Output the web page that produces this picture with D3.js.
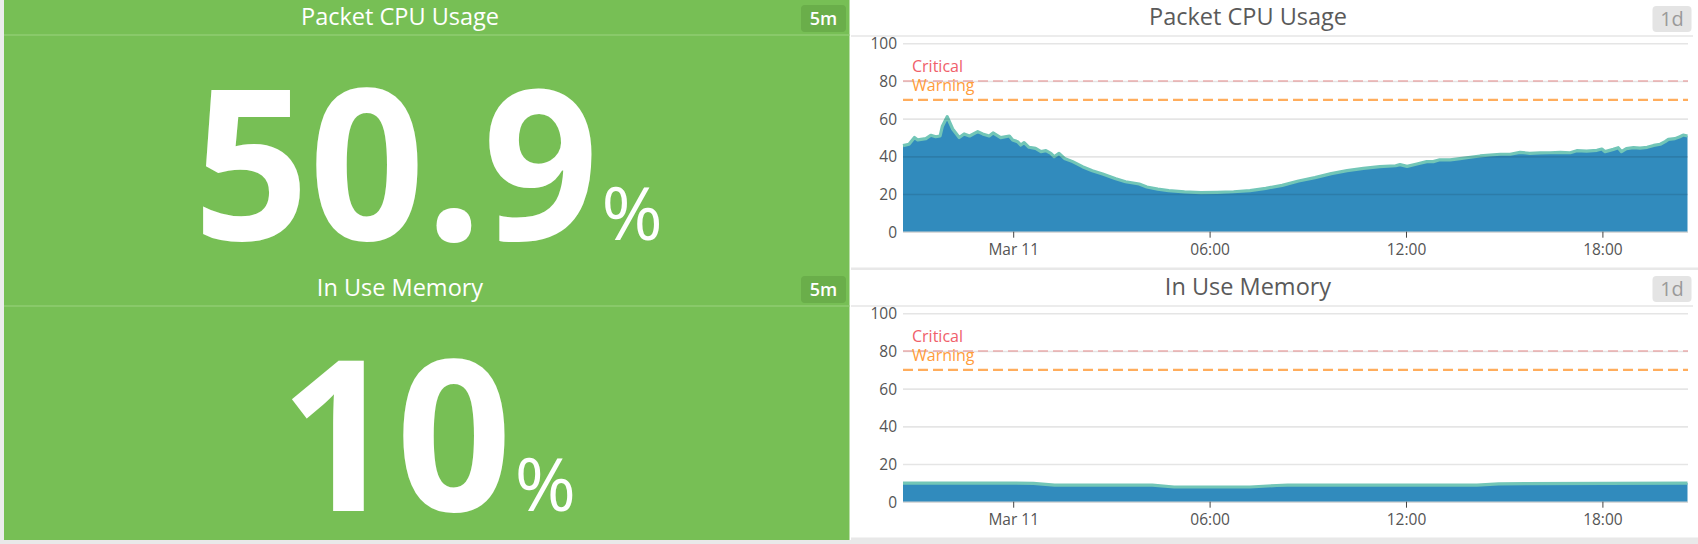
<!DOCTYPE html>
<html><head><meta charset="utf-8">
<script src="https://cdn.jsdelivr.net/npm/d3@7/dist/d3.min.js"></script>
<style>
html,body{margin:0;padding:0;background:#fff;overflow:hidden}
svg{display:block;font-family:'Open Sans',sans-serif}
</style>
</head><body>
<svg id="c" width="1698" height="544"></svg>
<script>
// ---------- data ----------
const titles = ["Packet CPU Usage", "In Use Memory"];
const bigValues = ["50.9", "10"];
const bigUnit = "%";
const leftBadge = "5m";
const rightBadge = "1d";

const cpuTimes = [
 "2017-03-10 20:38","2017-03-10 20:49","2017-03-10 20:59","2017-03-10 21:05","2017-03-10 21:20","2017-03-10 21:29",
 "2017-03-10 21:38","2017-03-10 21:46","2017-03-10 21:50","2017-03-10 21:59","2017-03-10 22:09","2017-03-10 22:21",
 "2017-03-10 22:30","2017-03-10 22:40","2017-03-10 22:55","2017-03-10 23:04","2017-03-10 23:16","2017-03-10 23:23",
 "2017-03-10 23:37","2017-03-10 23:53","2017-03-10 23:59","2017-03-11 00:08","2017-03-11 00:14","2017-03-11 00:20",
 "2017-03-11 00:29","2017-03-11 00:41","2017-03-11 00:51","2017-03-11 01:00","2017-03-11 01:09","2017-03-11 01:15",
 "2017-03-11 01:24","2017-03-11 01:34","2017-03-11 01:49","2017-03-11 02:07","2017-03-11 02:25","2017-03-11 02:44",
 "2017-03-11 03:08","2017-03-11 03:26","2017-03-11 03:51","2017-03-11 04:05","2017-03-11 04:25","2017-03-11 04:45",
 "2017-03-11 05:14","2017-03-11 05:44","2017-03-11 06:14","2017-03-11 06:44","2017-03-11 07:14","2017-03-11 07:43",
 "2017-03-11 08:13","2017-03-11 08:43","2017-03-11 09:13","2017-03-11 09:43","2017-03-11 10:12","2017-03-11 10:42",
 "2017-03-11 11:12","2017-03-11 11:41","2017-03-11 11:49","2017-03-11 12:02","2017-03-11 12:20","2017-03-11 12:38",
 "2017-03-11 12:50","2017-03-11 13:02","2017-03-11 13:21","2017-03-11 13:39","2017-03-11 13:58","2017-03-11 14:16",
 "2017-03-11 14:34","2017-03-11 14:53","2017-03-11 15:11","2017-03-11 15:29","2017-03-11 15:47","2017-03-11 16:06",
 "2017-03-11 16:24","2017-03-11 16:43","2017-03-11 17:01","2017-03-11 17:13","2017-03-11 17:31","2017-03-11 17:50",
 "2017-03-11 17:59","2017-03-11 18:05","2017-03-11 18:20","2017-03-11 18:29","2017-03-11 18:35","2017-03-11 18:44",
 "2017-03-11 18:57","2017-03-11 19:09","2017-03-11 19:22","2017-03-11 19:34","2017-03-11 19:46","2017-03-11 19:55",
 "2017-03-11 20:01","2017-03-11 20:13","2017-03-11 20:22","2017-03-11 20:28","2017-03-11 20:36"
];
const cpuValues = [
 45.7,46.4,50.0,48.7,49.4,51.2,
 50.4,50.8,55.8,61.0,54.5,50.0,
 51.9,50.8,53.1,51.9,50.8,52.4,
 49.9,50.8,48.7,47.8,46.0,47.3,
 44.8,44.2,42.5,43.0,41.6,39.8,
 41.6,38.9,37.2,34.5,32.4,30.6,
 28.1,26.5,25.3,23.7,22.6,21.8,
 21.1,20.7,20.9,21.2,21.8,23.0,
 24.6,26.9,28.7,30.8,32.4,33.6,
 34.5,35.0,35.6,34.7,35.9,37.2,
 37.2,38.2,38.1,38.8,39.5,40.2,
 40.7,41.1,41.1,42.1,41.6,41.8,
 41.9,42.1,41.9,43.0,42.8,43.2,
 43.9,42.5,43.7,44.6,42.5,44.1,
 44.6,44.4,44.8,45.8,46.4,47.8,
 49.0,49.4,50.4,51.3,50.8
];

const memTimes = [
 "2017-03-10 20:38","2017-03-10 23:57","2017-03-11 00:37","2017-03-11 01:16","2017-03-11 01:37",
 "2017-03-11 04:15","2017-03-11 04:55","2017-03-11 07:14","2017-03-11 08:03","2017-03-11 08:23",
 "2017-03-11 14:10","2017-03-11 14:50","2017-03-11 20:36"
];
const memValues = [9.9,9.9,9.7,8.8,8.8,8.8,7.8,7.8,8.6,8.8,8.8,9.5,9.9];

const timeDomain = ["2017-03-10 20:38", "2017-03-11 20:36"];
const yTicks = [0, 20, 40, 60, 80, 100];
const xTickTimes = ["2017-03-11 00:00","2017-03-11 06:00","2017-03-11 12:00","2017-03-11 18:00"];
const xTickLabels = ["Mar 11", "06:00", "12:00", "18:00"];
const thresholdNames = ["Critical", "Warning"];
const thresholdValues = [80, 70];

// ---------- drawing ----------
const parse = d3.timeParse("%Y-%m-%d %H:%M");
const svg = d3.select("#c");
const W = 1698, H = 544;

svg.append("rect").attr("x",0).attr("y",0).attr("width",W).attr("height",H).attr("fill","#fff");
svg.append("rect").attr("x",0).attr("y",0).attr("width",4).attr("height",H).attr("fill","#ececec");
svg.append("rect").attr("x",4).attr("y",0).attr("width",845.5).attr("height",540).attr("fill","#77bf55");
svg.append("rect").attr("x",0).attr("y",540).attr("width",W).attr("height",4).attr("fill","#e9e9e9");

const series = [
  {times: cpuTimes, values: cpuValues},
  {times: memTimes, values: memValues}
];

const x = d3.scaleTime().domain(timeDomain.map(parse)).range([903, 1687.5]);

titles.forEach((title, i) => {
  const oy = i * 270;
  const ly = i * 271;

  // ---- left (query value) panel ----
  svg.append("line").attr("x1",4).attr("x2",849.5)
     .attr("y1",ly+35).attr("y2",ly+35).attr("stroke","#8fcd72").attr("stroke-width",1.5);
  svg.append("text").attr("x",400).attr("y",ly+25).attr("text-anchor","middle")
     .attr("fill","#fff").attr("font-size",23.5).text(title);
  svg.append("rect").attr("x",801).attr("y",ly+5).attr("width",45).attr("height",27).attr("rx",4)
     .attr("fill","#6aae4a");
  svg.append("text").attr("x",823.5).attr("y",ly+25).attr("text-anchor","middle")
     .attr("fill","#fff").attr("font-size",18).attr("font-weight",600).text(leftBadge);

  const sx = 0.965;
  const big = svg.append("g");
  const num = big.append("text").attr("x",0).attr("y",0).attr("fill","#fff")
     .attr("font-size",210).attr("font-weight",700).text(bigValues[i]);
  const pct = big.append("text").attr("y", ly+240).attr("fill","#fff")
     .attr("font-size",74).attr("font-weight",400).text(bigUnit);
  const nw = num.node().getComputedTextLength() * sx;
  const pw = pct.node().getComputedTextLength();
  const gap = 3;
  const cx = 428;
  const start = cx - (nw + gap + pw) / 2;
  num.attr("transform", `translate(${start},${ly+240}) scale(${sx},1)`);
  pct.attr("x", start + nw + gap);

  // ---- right (timeseries) panel ----
  svg.append("line").attr("x1",851).attr("x2",1693)
     .attr("y1",oy+36).attr("y2",oy+36).attr("stroke","#ececec").attr("stroke-width",2);
  svg.append("rect").attr("x",851).attr("y",oy+267.5).attr("width",W-851).attr("height",2.5).attr("fill","#e8e8e8");
  svg.append("text").attr("x",1248).attr("y",oy+25).attr("text-anchor","middle")
     .attr("fill","#5a5a5a").attr("font-size",23.5).text(title);
  svg.append("rect").attr("x",1652.5).attr("y",oy+6).attr("width",39).attr("height",26).attr("rx",4)
     .attr("fill","#e4e4e4");
  svg.append("text").attr("x",1672).attr("y",oy+26).attr("text-anchor","middle")
     .attr("fill","#9a9a9a").attr("font-size",20).text(rightBadge);

  const y = d3.scaleLinear().domain([0,100]).range([oy+231.7, oy+43.3]);
  const pts = series[i].times.map((t, k) => ({t: parse(t), v: series[i].values[k]}));

  const area = d3.area().x(d => x(d.t)).y0(y(0)).y1(d => y(d.v));
  const line = d3.line().x(d => x(d.t)).y(d => y(d.v));
  svg.append("path").datum(pts).attr("d", area).attr("fill","#318bbd");
  svg.append("path").datum(pts).attr("d", line).attr("fill","none")
     .attr("stroke","#72c6b7").attr("stroke-width",3.2).attr("stroke-linejoin","round");

  const gy = svg.append("g").attr("transform", `translate(903,0)`)
     .call(d3.axisLeft(y).tickValues(yTicks).tickSize(-785).tickFormat(""));
  gy.select(".domain").remove();
  gy.selectAll(".tick line").attr("stroke","rgba(0,0,0,0.1)").attr("stroke-width",1.6);

  const yl = svg.append("g").attr("transform", `translate(897,0)`)
     .call(d3.axisLeft(y).tickValues(yTicks).tickSize(0).tickPadding(0).tickFormat(d3.format("d")));
  yl.select(".domain").remove();
  yl.selectAll("text").attr("fill","#555").attr("font-size",15.5)
     .attr("font-family","'Open Sans',sans-serif").attr("dy","0.35em");

  const xa = svg.append("g").attr("transform", `translate(0,${y(0)})`)
     .call(d3.axisBottom(x).tickValues(xTickTimes.map(parse)).tickSize(6).tickPadding(6)
       .tickFormat((d, k) => xTickLabels[k]));
  xa.select(".domain").attr("d", `M903,0.5H1688`).attr("stroke","#d5d5d5");
  xa.selectAll(".tick line").attr("stroke","#444");
  xa.selectAll("text").attr("fill","#555").attr("font-size",15.5)
     .attr("font-family","'Open Sans',sans-serif");

  const tColors = ["#e58a8a", "#ffad5c"];
  const tText = ["#f0606a", "#ff9d3c"];
  const tWidth = [1.2, 2.2];
  thresholdValues.forEach((tv, k) => {
    svg.append("line").attr("x1",903).attr("x2",1688).attr("y1",y(tv)).attr("y2",y(tv))
       .attr("stroke",tColors[k]).attr("stroke-width",tWidth[k]).attr("stroke-dasharray","10,5");
  });
  svg.append("text").attr("x",912).attr("y",oy+71.7).attr("fill",tText[0]).attr("font-size",16).text(thresholdNames[0]);
  svg.append("text").attr("x",912).attr("y",oy+91).attr("fill",tText[1]).attr("font-size",16).text(thresholdNames[1]);
});
</script>
</body></html>
